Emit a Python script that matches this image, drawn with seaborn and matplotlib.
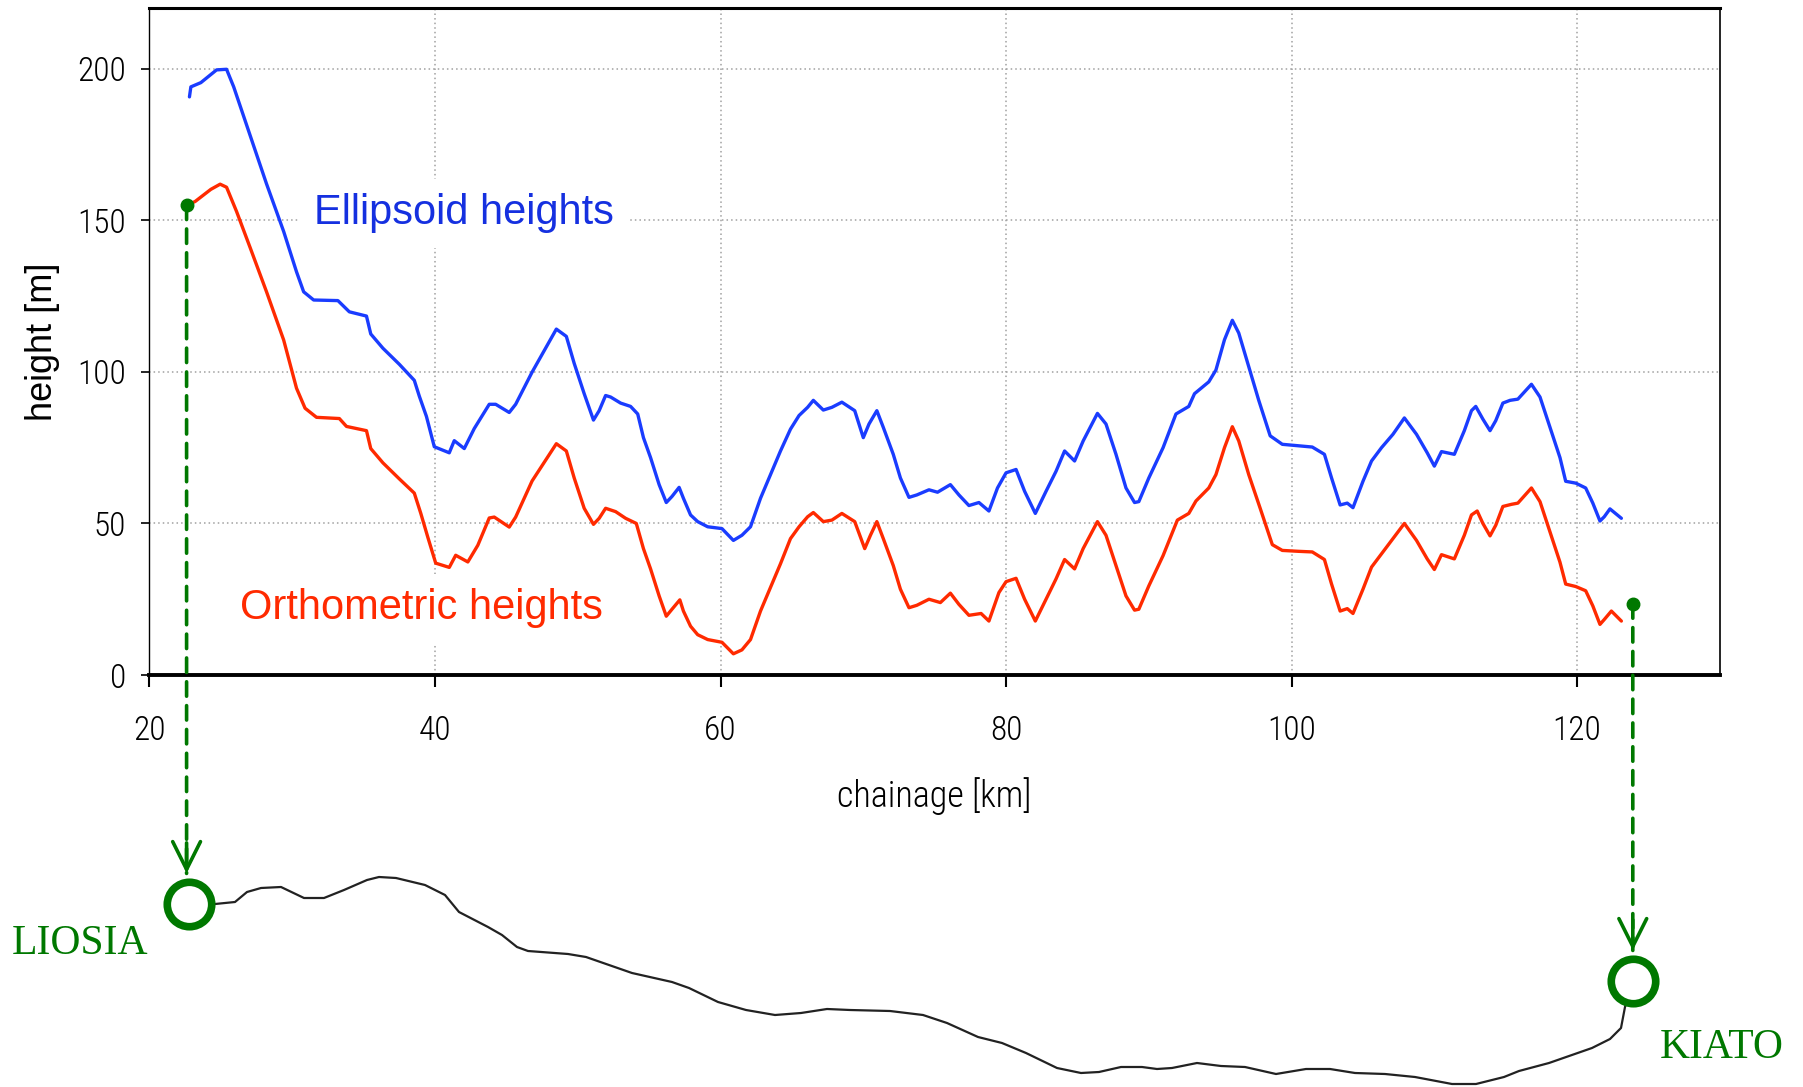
import numpy as np
import pandas as pd
import matplotlib
matplotlib.use('Agg')
import matplotlib.pyplot as plt
import seaborn as sns

# chainage [km] / height [m]
ell_km = [22.8, 22.9, 23.6, 24.7, 25.4, 25.9, 27.05, 28.2, 29.4, 30.3, 30.8, 31.5, 33.2, 34.0, 35.2,
          35.5, 36.35, 37.5, 38.55, 38.9, 39.4, 39.95, 41.0, 41.35, 42.05, 42.75, 43.8, 44.25, 45.2,
          45.65, 46.8, 48.5, 49.2, 49.75, 50.45, 51.1, 51.5, 51.95, 52.3, 53.0, 53.7, 54.2, 54.6,
          55.1, 55.7, 56.2, 56.6, 57.1, 57.4, 57.9, 58.4, 59.1, 60.1, 60.9, 61.5, 62.1, 62.8, 63.5,
          64.2, 64.9, 65.5, 66.1, 66.5, 67.2, 67.8, 68.5, 69.4, 70.0, 70.4, 70.95, 71.4, 72.1, 72.6,
          73.2, 73.75, 74.6, 75.2, 76.1, 76.7, 77.4, 78.1, 78.8, 79.4, 80.0, 80.7, 81.3, 82.05, 82.8,
          83.5, 84.1, 84.8, 85.4, 86.4, 87.0, 87.7, 88.4, 89.0, 89.3, 90.0, 91.0, 91.9, 92.8, 93.2,
          94.2, 94.7, 95.3, 95.85, 96.3, 97.0, 97.7, 98.5, 99.35, 100.5, 101.45, 102.3, 102.8, 103.4,
          103.9, 104.3, 105.0, 105.6, 106.3, 107.1, 107.9, 108.75, 109.5, 110.0, 110.5, 111.4, 112.1,
          112.6, 112.9, 113.4, 113.9, 114.3, 114.8, 115.3, 115.85, 116.8, 117.4, 118.1, 118.8, 119.2,
          119.9, 120.6, 121.1, 121.6, 121.9, 122.3, 123.1]
ell_h = [190.7, 194.0, 195.4, 199.6, 199.8, 194.0, 178.0, 162.0, 146.3, 133.0, 126.4, 123.7, 123.5,
         119.8, 118.4, 112.5, 107.8, 102.5, 97.2, 92.0, 85.3, 75.3, 73.3, 77.3, 74.7, 81.3, 89.3, 89.3,
         86.6, 89.3, 99.9, 114.1, 111.7, 102.8, 92.8, 84.1, 87.2, 92.2, 91.7, 89.7, 88.6, 86.1, 78.3,
         71.7, 62.8, 56.9, 58.9, 61.9, 58.3, 52.8, 50.6, 48.9, 48.3, 44.4, 46.1, 48.9, 58.3, 66.1,
         73.9, 81.1, 85.6, 88.3, 90.6, 87.4, 88.3, 90.0, 87.2, 78.3, 82.8, 87.2, 81.7, 72.8, 65.0,
         58.6, 59.4, 61.1, 60.3, 62.8, 59.4, 55.9, 56.9, 54.1, 61.7, 66.7, 67.8, 60.6, 53.3, 60.6,
         67.2, 73.9, 70.6, 77.2, 86.3, 82.8, 72.8, 61.7, 56.9, 57.2, 65.0, 75.0, 86.1, 88.6, 92.8,
         96.7, 100.6, 110.6, 117.0, 112.8, 101.7, 90.6, 78.9, 76.1, 75.6, 75.2, 72.8, 65.0, 56.1,
         56.7, 55.2, 63.9, 70.6, 75.0, 79.4, 84.8, 79.4, 73.3, 68.9, 73.7, 72.8, 80.6, 87.2, 88.6,
         84.4, 80.6, 83.9, 89.7, 90.6, 91.0, 95.9, 91.7, 81.7, 71.7, 63.9, 63.3, 61.7, 56.7, 50.8,
         52.2, 54.8, 51.7]

ort_km = [22.6, 23.2, 24.3, 24.95, 25.4, 26.1, 27.05, 28.2, 29.4, 30.3, 30.9, 31.7, 33.3, 33.8, 35.2,
          35.5, 36.35, 37.5, 38.55, 39.0, 39.5, 40.05, 41.0, 41.45, 42.3, 43.0, 43.8, 44.15, 45.2,
          45.65, 46.8, 48.5, 49.2, 49.75, 50.45, 51.1, 51.5, 51.95, 52.65, 53.35, 54.1, 54.6, 55.1,
          55.7, 56.2, 56.6, 57.15, 57.4, 57.9, 58.4, 59.1, 60.1, 60.9, 61.5, 62.1, 62.8, 63.5, 64.2,
          64.9, 65.5, 66.1, 66.5, 67.2, 67.8, 68.5, 69.4, 70.1, 70.5, 70.95, 71.4, 72.1, 72.6, 73.2,
          73.75, 74.6, 75.4, 76.1, 76.7, 77.4, 78.25, 78.8, 79.5, 80.0, 80.7, 81.3, 82.05, 82.8, 83.5,
          84.1, 84.8, 85.4, 86.4, 87.0, 87.7, 88.4, 89.0, 89.3, 90.0, 91.0, 92.0, 92.8, 93.3, 94.2,
          94.7, 95.3, 95.85, 96.3, 97.0, 97.8, 98.65, 99.35, 100.5, 101.45, 102.3, 102.8, 103.4,
          103.9, 104.3, 105.0, 105.6, 106.3, 107.1, 107.9, 108.75, 109.5, 110.0, 110.5, 111.4, 112.1,
          112.6, 113.0, 113.4, 113.9, 114.3, 114.8, 115.4, 115.85, 116.8, 117.4, 118.1, 118.8, 119.2,
          119.9, 120.6, 121.1, 121.6, 121.9, 122.4, 123.1]
ort_h = [154.9, 156.2, 160.2, 161.9, 160.9, 152.9, 141.0, 126.4, 110.5, 94.6, 88.0, 85.0, 84.6, 82.0,
         80.6, 74.7, 70.0, 64.7, 60.0, 53.4, 45.4, 36.9, 35.5, 39.5, 37.3, 42.8, 51.8, 52.1, 48.8,
         52.1, 64.0, 76.3, 73.9, 65.0, 55.0, 49.7, 51.7, 55.0, 53.9, 51.7, 50.0, 41.7, 35.0, 26.1,
         19.4, 21.7, 24.8, 21.1, 16.1, 13.3, 11.7, 10.8, 7.0, 8.3, 11.7, 21.1, 28.9, 36.7, 45.0, 48.9,
         52.2, 53.6, 50.6, 51.1, 53.3, 50.6, 41.7, 46.1, 50.6, 45.0, 36.1, 28.3, 22.2, 23.0, 25.0,
         23.9, 27.0, 23.3, 19.7, 20.3, 17.8, 27.2, 30.8, 31.9, 25.0, 17.8, 25.0, 31.7, 38.1, 35.0,
         41.7, 50.6, 46.1, 36.1, 26.1, 21.4, 21.7, 29.4, 39.4, 51.1, 53.3, 57.4, 61.7, 66.1, 75.0,
         81.9, 77.2, 66.1, 55.0, 43.0, 41.1, 40.8, 40.6, 38.1, 30.0, 21.1, 21.9, 20.3, 28.3, 35.6,
         40.0, 45.0, 50.0, 44.4, 38.3, 34.8, 39.7, 38.3, 46.1, 52.8, 54.1, 50.0, 45.9, 49.4, 55.6,
         56.3, 56.7, 61.7, 57.2, 47.2, 37.2, 30.0, 29.2, 27.8, 22.8, 16.7, 18.3, 21.1, 17.8]

# station marks on the profile (chainage, height)
stations = ['LIOSIA', 'KIATO']
station_km = [22.6, 123.9]
station_h = [155.0, 23.5]

# plan sketch of the alignment (sketch units, y pointing down)
plan_x = [189, 215, 235, 247, 261, 281, 304, 324, 344, 367, 379, 396, 425, 445, 459, 488, 502, 517,
          528, 568, 586, 632, 672, 689, 718, 746, 775, 801, 827, 850, 890, 923, 947, 978, 1002, 1026,
          1057, 1081, 1099, 1121, 1142, 1157, 1172, 1197, 1221, 1245, 1276, 1306, 1330, 1355, 1385,
          1415, 1452, 1476, 1504, 1519, 1549, 1592, 1610, 1621, 1625, 1633]
plan_y = [904, 904, 902, 892, 888, 887, 898, 898, 890, 880, 877, 878, 885, 895, 912, 927, 935, 947,
          951, 954, 957, 973, 982, 988, 1002, 1010, 1015, 1013, 1009, 1010, 1011, 1015, 1023, 1037,
          1043, 1053, 1068, 1073, 1072, 1067, 1067, 1069, 1068, 1063, 1066, 1067, 1074, 1069, 1069,
          1073, 1074, 1077, 1084, 1084, 1077, 1071, 1063, 1048, 1039, 1028, 1007, 981]

x_ticks = [20, 40, 60, 80, 100, 120]
y_ticks = [0, 50, 100, 150, 200]

blue = '#1a3cff'
red = '#ff2a00'
green = '#007800'

sns.set_style('white')
plt.rcParams['font.family'] = ['Roboto Condensed', 'Liberation Sans', 'DejaVu Sans']
plt.rcParams['font.weight'] = 300

fig = plt.figure(figsize=(18.03, 10.87), dpi=100)

# plan sketch underneath everything
pax = fig.add_axes([0, 0, 1, 1], zorder=0)
pax.set_xlim(0, 1803)
pax.set_ylim(1087, 0)
pax.axis('off')
pax.patch.set_alpha(0)
sns.lineplot(x=plan_x, y=plan_y, ax=pax, color='#222222', lw=1.6, sort=False, estimator=None)
pax.plot([plan_x[0], plan_x[-1]], [plan_y[0], plan_y[-1]], 'o', ms=32, mew=5.5,
         mec=green, mfc='white', zorder=5)
pax.text(80, 944, stations[0], color=green, fontsize=30, family='Liberation Serif',
         weight='normal', ha='center', va='center')
pax.text(1722, 1048, stations[1], color=green, fontsize=30, family='Liberation Serif',
         weight='normal', ha='center', va='center')

ax = fig.add_axes([0.0829, 0.379, 0.871, 0.6136], zorder=1)
df = pd.concat([
    pd.DataFrame({'km': ell_km, 'h': ell_h, 'kind': 'ell'}),
    pd.DataFrame({'km': ort_km, 'h': ort_h, 'kind': 'ort'}),
])
sns.lineplot(data=df, x='km', y='h', hue='kind', palette={'ell': blue, 'ort': red},
             lw=2.4, ax=ax, legend=False, sort=False, estimator=None)

ax.set_xlim(20, 130)
ax.set_ylim(0, 220)
ax.set_xticks(x_ticks)
ax.set_yticks(y_ticks)
ax.grid(True, color='#a0a0a0', linestyle=(0, (1, 2)), lw=1.1)
ax.set_axisbelow(True)
for side, w in [('left', 1.0), ('right', 1.2), ('top', 2.2), ('bottom', 2.8)]:
    ax.spines[side].set_visible(True)
    ax.spines[side].set_color('black')
    ax.spines[side].set_linewidth(w)
ax.tick_params(axis='x', direction='out', length=8.5, width=1.5, pad=20, labelsize=24,
               bottom=True, colors='black')
ax.tick_params(axis='y', direction='out', length=6, width=1.2, pad=11, labelsize=24,
               left=True, colors='black')
ax.set_xlabel('chainage [km]', fontsize=26, labelpad=22, color='black', weight=300)
ax.set_ylabel('height [m]', fontsize=26, labelpad=12, color='black',
              family='Liberation Sans', weight='normal')

ax.text(31.5, 152.3, 'Ellipsoid heights', color='#1530e0', fontsize=30, family='Liberation Sans',
        weight='normal', ha='left', va='center', zorder=4,
        bbox=dict(boxstyle='square,pad=0.35', fc='white', ec='none'))
ax.text(26.35, 22.0, 'Orthometric heights', color=red, fontsize=30, family='Liberation Sans',
        weight='normal', ha='left', va='center', zorder=4,
        bbox=dict(boxstyle='square,pad=0.35', fc='white', ec='none'))

ax.plot(station_km, station_h, 'o', color=green, ms=9, zorder=6, clip_on=False)

# dashed drop lines from the profile to the plan stations
plan_end_y = [plan_y[0], plan_y[-1]]
for km, h, py in zip(station_km, station_h, plan_end_y):
    ax.annotate('', xy=(km, py), xycoords=(ax.transData, pax.transData),
                xytext=(km, h), textcoords='data', annotation_clip=False,
                arrowprops=dict(arrowstyle='-', color=green, lw=2.6,
                                linestyle=(0, (4, 2.6)), shrinkA=0, shrinkB=22))
    ax.annotate('', xy=(km, py), xycoords=(ax.transData, pax.transData),
                xytext=(0, 44), textcoords='offset points', annotation_clip=False,
                arrowprops=dict(arrowstyle='->,head_length=1.0,head_width=0.5', color=green,
                                lw=2.6, mutation_scale=20, shrinkA=0, shrinkB=22))

fig.savefig('out.png', dpi=100)
